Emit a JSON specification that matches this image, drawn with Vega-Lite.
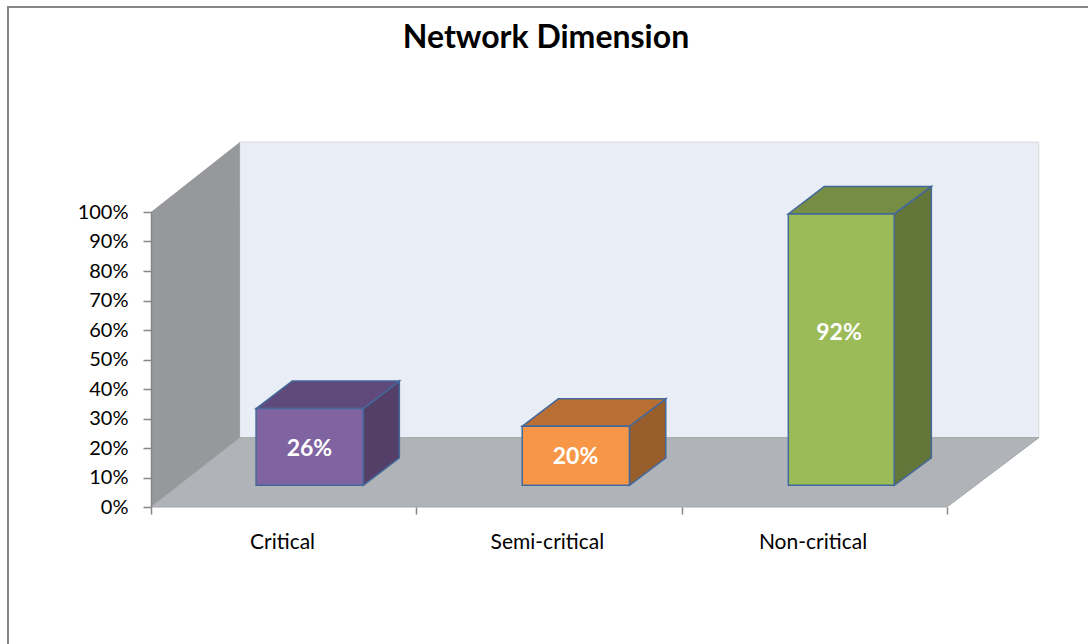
{
"$schema":"https://vega.github.io/schema/vega-lite/v6.json",
"width":796,"height":295,
"autosize":{"type":"none"},
"padding":{"left":151,"top":212,"right":141,"bottom":137},
"background":"#ffffff",
"title":{"text":"Network Dimension","font":"Lato","fontSize":32,"fontWeight":"bold","color":"#000000","anchor":"middle","offset":-49,"dx":-3},
"config":{"view":{"stroke":null},"font":"Lato"},
"datasets":{
"bars":[
{"category":"Critical","value":26,"label":"26%","left":0.396,"right":0.800,"labelX":0.597,"labelY":19.7},
{"category":"Semi-critical","value":20,"label":"20%","left":1.399,"right":1.803,"labelX":1.600,"labelY":17},
{"category":"Non-critical","value":92,"label":"92%","left":2.402,"right":2.801,"labelX":2.593,"labelY":59}],
"sides":[
{"category":"Critical","x":0.800,"low":7.36,"high":33.36},
{"category":"Critical","x":0.936,"low":16.68,"high":42.68},
{"category":"Semi-critical","x":1.803,"low":7.36,"high":27.36},
{"category":"Semi-critical","x":1.940,"low":16.68,"high":36.68},
{"category":"Non-critical","x":2.801,"low":7.36,"high":99.36},
{"category":"Non-critical","x":2.941,"low":16.68,"high":108.68}],
"tops":[
{"category":"Critical","level":33.36,"from":0.396,"to":0.800},
{"category":"Critical","level":42.68,"from":0.532,"to":0.936},
{"category":"Semi-critical","level":27.36,"from":1.399,"to":1.803},
{"category":"Semi-critical","level":36.68,"from":1.535,"to":1.940},
{"category":"Non-critical","level":99.36,"from":2.402,"to":2.801},
{"category":"Non-critical","level":108.68,"from":2.538,"to":2.941}],
"frame":[{"from":-0.539,"to":3.7,"low":-60,"high":169.5}],
"backWall":[{"from":0.335,"to":3.346,"low":23.5,"high":123.7}],
"sideWall":[{"x":0,"low":0,"high":100},{"x":0.335,"low":23.5,"high":123.7}],
"floor":[{"level":0,"from":0,"to":3},{"level":23.5,"from":0.335,"to":3.346}]
},
"layer":[
{"data":{"name":"frame"},
 "mark":{"type":"rect","fill":null,"stroke":"#868686","strokeWidth":2},
 "encoding":{
  "x":{"field":"from","type":"quantitative","scale":{"domain":[0,3],"nice":false,"zero":false},
   "axis":{"orient":"bottom","values":[0,1,2,3],"title":null,"labels":false,"grid":false,"domain":false,"ticks":true,"tickSize":7,"tickColor":"#868686","tickWidth":1.5,"zindex":1}},
  "x2":{"field":"to"},
  "y":{"field":"low","type":"quantitative","scale":{"domain":[0,100],"nice":false,"zero":false},
   "axis":{"orient":"left","values":[0,10,20,30,40,50,60,70,80,90,100],"title":null,"grid":false,"domain":true,"domainColor":"#868686","domainWidth":1.5,"tickColor":"#868686","tickWidth":1.5,"tickSize":8,"labelFont":"Lato","labelFontSize":20,"labelColor":"#000000","labelPadding":15,"labelExpr":"datum.value+'%'","zindex":1}},
  "y2":{"field":"high"}}},
{"data":{"name":"backWall"},
 "mark":{"type":"rect","fill":"#E9EDF5","stroke":"#D9D9D9","strokeWidth":1},
 "encoding":{"x":{"field":"from","type":"quantitative","axis":null},"x2":{"field":"to"},"y":{"field":"low","type":"quantitative","axis":null},"y2":{"field":"high"}}},
{"data":{"name":"sideWall"},
 "mark":{"type":"area","fill":"#96989B"},
 "encoding":{"x":{"field":"x","type":"quantitative","axis":null},"y":{"field":"low","type":"quantitative","axis":null},"y2":{"field":"high"}}},
{"data":{"name":"floor"},
 "mark":{"type":"area","orient":"horizontal","fill":"#B0B3B7","stroke":"#A3A5A8","strokeWidth":1},
 "encoding":{"y":{"field":"level","type":"quantitative","axis":null},"x":{"field":"from","type":"quantitative","axis":null},"x2":{"field":"to"}}},
{"data":{"name":"sides"},
 "mark":{"type":"area","stroke":"#44689A","strokeWidth":1.5},
 "encoding":{"x":{"field":"x","type":"quantitative","axis":null},"y":{"field":"low","type":"quantitative","axis":null},"y2":{"field":"high"},
  "fill":{"field":"category","type":"nominal","legend":null,"scale":{"domain":["Critical","Semi-critical","Non-critical"],"range":["#533F67","#985E2C","#63763A"]}}}},
{"data":{"name":"tops"},
 "mark":{"type":"area","orient":"horizontal","stroke":"#44689A","strokeWidth":1.5},
 "encoding":{"y":{"field":"level","type":"quantitative","axis":null},"x":{"field":"from","type":"quantitative","axis":null},"x2":{"field":"to"},"detail":{"field":"category"},
  "fill":{"field":"category","type":"nominal","legend":null,"scale":{"domain":["Critical","Semi-critical","Non-critical"],"range":["#604A7B","#B96F33","#768E44"]}}}},
{"data":{"name":"bars"},
 "mark":{"type":"rect","stroke":"#44689A","strokeWidth":1.5,"yOffset":-21.7,"y2Offset":-21.7},
 "encoding":{"x":{"field":"left","type":"quantitative","axis":null},"x2":{"field":"right"},"y":{"field":"value","type":"quantitative","axis":null},"y2":{"datum":0},
  "fill":{"field":"category","type":"nominal","legend":null,"scale":{"domain":["Critical","Semi-critical","Non-critical"],"range":["#8064A2","#F79646","#9BBB59"]}}}},
{"data":{"name":"bars"},
 "mark":{"type":"text","font":"Lato","fontWeight":"bold","fontSize":23,"color":"#ffffff","align":"center","baseline":"middle"},
 "encoding":{"x":{"field":"labelX","type":"quantitative","axis":{"orient":"bottom","values":[0.494,1.492,2.493],"title":null,"grid":false,"domain":false,"ticks":false,"labelFont":"Lato","labelFontSize":21,"labelColor":"#000000","labelPadding":24,"labelExpr":"datum.value<1?'Critical':datum.value<2?'Semi-critical':'Non-critical'"}},"y":{"field":"labelY","type":"quantitative","axis":null},"text":{"field":"label"}}}
],
"resolve":{"scale":{"fill":"independent"},"axis":{"x":"independent","y":"independent"}}
}
